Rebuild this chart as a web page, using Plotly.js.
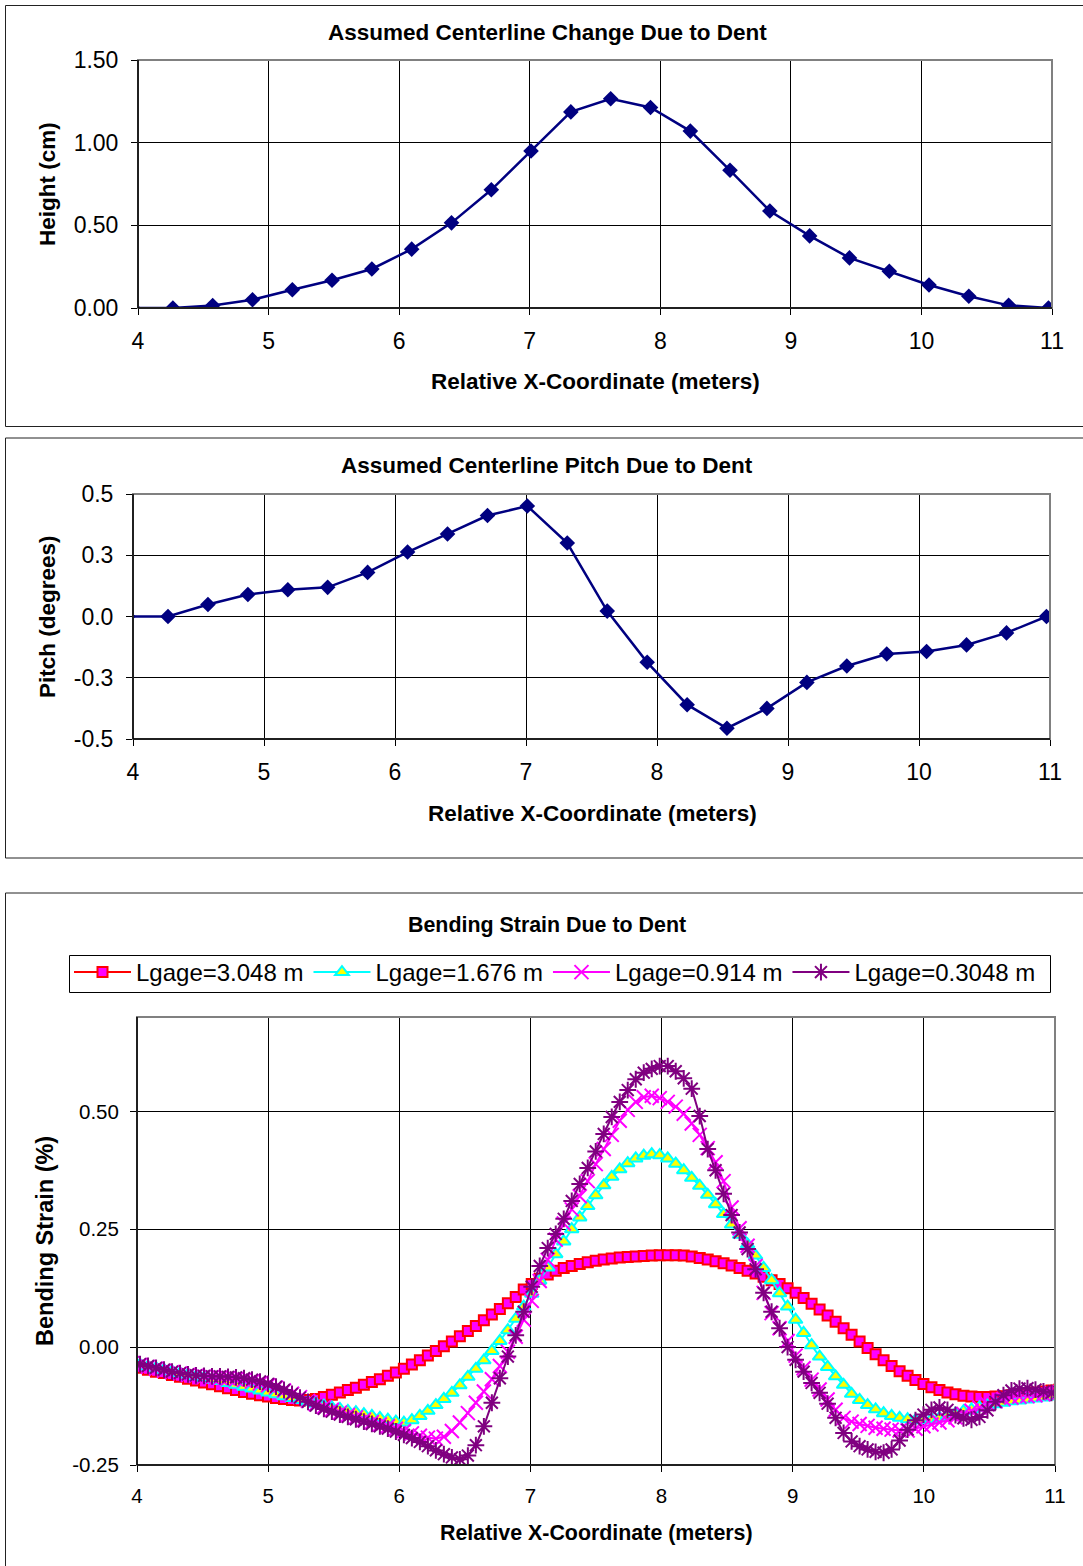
<!DOCTYPE html>
<html>
<head>
<meta charset="utf-8">
<script src="https://cdn.plot.ly/plotly-3.0.1.min.js"></script>
<style>
  html, body { margin: 0; padding: 0; background: #fff; }
  #chart { width: 1083px; height: 1566px; }
</style>
</head>
<body>
<div id="chart"></div>
<script>
// ---------- Data ----------
// Relative X-Coordinate (m) for the centerline charts (1 ft spacing)
const xCenter = [3.962, 4.267, 4.572, 4.877, 5.182, 5.486, 5.791, 6.096, 6.401, 6.706, 7.010, 7.315, 7.620,
                 7.925, 8.230, 8.534, 8.839, 9.144, 9.449, 9.754, 10.058, 10.363, 10.668, 10.973, 11.278];
// Height (cm)
const heightCm = [0.000, 0.000, 0.015, 0.050, 0.110, 0.168, 0.236, 0.356, 0.515, 0.715, 0.950, 1.186, 1.266,
                  1.213, 1.070, 0.833, 0.587, 0.436, 0.303, 0.222, 0.139, 0.071, 0.016, 0.000, 0.000];
// Pitch (degrees)
const pitchDeg = [0.000, 0.000, 0.049, 0.090, 0.109, 0.119, 0.180, 0.263, 0.337, 0.412, 0.451, 0.300, 0.022,
                  -0.187, -0.360, -0.456, -0.375, -0.269, -0.202, -0.153, -0.143, -0.116, -0.067, 0.000, 0.000];
const pitchTickVals = [-0.5, -0.25, 0, 0.25, 0.5];
const pitchTickText = ['-0.5', '-0.3', '0.0', '0.3', '0.5'];
const strainTickVals = [-0.25, 0, 0.25, 0.5];
const strainTickText = ['-0.25', '0.00', '0.25', '0.50'];

// Relative X-Coordinate (m) for bending strain (0.2 ft spacing)
const xStrain = [3.962,4.023,4.084,4.145,4.206,4.267,4.328,4.389,4.450,4.511,
                 4.572,4.633,4.694,4.755,4.816,4.877,4.938,4.999,5.060,5.121,
                 5.182,5.243,5.304,5.364,5.425,5.486,5.547,5.608,5.669,5.730,
                 5.791,5.852,5.913,5.974,6.035,6.096,6.157,6.218,6.279,6.340,
                 6.401,6.462,6.523,6.584,6.645,6.706,6.767,6.828,6.888,6.949,
                 7.010,7.071,7.132,7.193,7.254,7.315,7.376,7.437,7.498,7.559,
                 7.620,7.681,7.742,7.803,7.864,7.925,7.986,8.047,8.108,8.169,
                 8.230,8.291,8.352,8.412,8.473,8.534,8.595,8.656,8.717,8.778,
                 8.839,8.900,8.961,9.022,9.083,9.144,9.205,9.266,9.327,9.388,
                 9.449,9.510,9.571,9.632,9.693,9.754,9.815,9.876,9.936,9.997,
                 10.058,10.119,10.180,10.241,10.302,10.363,10.424,10.485,10.546,10.607,
                 10.668,10.729,10.790,10.851,10.912,10.973,11.034];

// Bending strain (%) per gage length
const strainL3048 = [-0.040,-0.044,-0.048,-0.052,-0.055,-0.059,-0.063,-0.067,-0.071,-0.075,
                     -0.079,-0.083,-0.087,-0.091,-0.095,-0.099,-0.102,-0.105,-0.108,-0.110,
                     -0.112,-0.113,-0.112,-0.110,-0.106,-0.101,-0.096,-0.091,-0.086,-0.080,
                     -0.074,-0.068,-0.061,-0.054,-0.046,-0.037,-0.028,-0.018,-0.008,0.002,
                     0.012,0.023,0.034,0.045,0.057,0.069,0.081,0.093,0.106,0.122,
                     0.134,0.145,0.154,0.162,0.168,0.172,0.176,0.180,0.183,0.186,
                     0.188,0.190,0.191,0.192,0.193,0.194,0.195,0.195,0.195,0.194,
                     0.192,0.189,0.186,0.182,0.178,0.173,0.168,0.162,0.156,0.149,
                     0.142,0.134,0.125,0.115,0.104,0.092,0.080,0.067,0.054,0.040,
                     0.026,0.012,-0.002,-0.015,-0.028,-0.040,-0.051,-0.061,-0.070,-0.078,
                     -0.085,-0.091,-0.096,-0.100,-0.103,-0.105,-0.106,-0.106,-0.105,-0.104,
                     -0.102,-0.100,-0.098,-0.096,-0.094,-0.092,-0.090];
const strainL1676 = [-0.034,-0.037,-0.041,-0.044,-0.048,-0.051,-0.055,-0.058,-0.062,-0.065,
                     -0.069,-0.072,-0.076,-0.080,-0.084,-0.088,-0.092,-0.096,-0.100,-0.104,
                     -0.108,-0.112,-0.116,-0.120,-0.124,-0.128,-0.131,-0.135,-0.138,-0.142,
                     -0.146,-0.150,-0.154,-0.158,-0.160,-0.155,-0.146,-0.135,-0.123,-0.110,
                     -0.097,-0.081,-0.063,-0.046,-0.028,-0.008,0.013,0.036,0.060,0.086,
                     0.113,0.141,0.169,0.197,0.224,0.250,0.275,0.299,0.322,0.343,
                     0.361,0.377,0.390,0.400,0.406,0.409,0.407,0.400,0.389,0.375,
                     0.359,0.342,0.323,0.303,0.282,0.260,0.238,0.218,0.194,0.168,
                     0.142,0.114,0.086,0.058,0.030,0.004,-0.020,-0.042,-0.062,-0.080,
                     -0.099,-0.112,-0.123,-0.132,-0.140,-0.146,-0.150,-0.153,-0.155,-0.155,
                     -0.153,-0.150,-0.146,-0.141,-0.136,-0.132,-0.128,-0.124,-0.121,-0.118,
                     -0.115,-0.113,-0.111,-0.109,-0.107,-0.105,-0.103];
const strainL0914 = [-0.034,-0.038,-0.042,-0.046,-0.050,-0.053,-0.056,-0.059,-0.061,-0.063,
                     -0.064,-0.065,-0.066,-0.068,-0.070,-0.073,-0.077,-0.081,-0.086,-0.092,
                     -0.099,-0.106,-0.114,-0.121,-0.127,-0.133,-0.139,-0.144,-0.149,-0.154,
                     -0.159,-0.164,-0.168,-0.173,-0.178,-0.183,-0.188,-0.192,-0.194,-0.190,
                     -0.178,-0.160,-0.140,-0.118,-0.094,-0.068,-0.040,-0.010,0.022,0.058,
                     0.098,0.140,0.185,0.228,0.262,0.292,0.320,0.352,0.388,0.420,
                     0.450,0.480,0.503,0.520,0.530,0.533,0.528,0.520,0.510,0.495,
                     0.474,0.450,0.422,0.392,0.352,0.296,0.252,0.215,0.172,0.115,
                     0.072,0.040,0.013,-0.018,-0.045,-0.069,-0.090,-0.111,-0.133,-0.150,
                     -0.158,-0.163,-0.167,-0.171,-0.173,-0.175,-0.177,-0.177,-0.173,-0.168,
                     -0.164,-0.160,-0.155,-0.149,-0.142,-0.135,-0.128,-0.121,-0.115,-0.110,
                     -0.107,-0.105,-0.104,-0.102,-0.100,-0.098,-0.096];
const strainL03048 = [-0.032,-0.036,-0.040,-0.044,-0.048,-0.052,-0.055,-0.058,-0.060,-0.061,
                      -0.062,-0.062,-0.063,-0.064,-0.066,-0.069,-0.073,-0.078,-0.084,-0.091,
                      -0.099,-0.107,-0.116,-0.124,-0.131,-0.137,-0.143,-0.148,-0.153,-0.158,
                      -0.163,-0.168,-0.173,-0.179,-0.186,-0.193,-0.201,-0.210,-0.219,-0.227,
                      -0.234,-0.238,-0.230,-0.208,-0.168,-0.118,-0.066,-0.020,0.025,0.075,
                      0.128,0.172,0.210,0.240,0.272,0.310,0.346,0.380,0.415,0.452,
                      0.488,0.520,0.545,0.568,0.582,0.590,0.596,0.596,0.585,0.570,
                      0.548,0.490,0.420,0.375,0.325,0.280,0.243,0.208,0.165,0.115,
                      0.075,0.040,0.000,-0.027,-0.052,-0.076,-0.097,-0.120,-0.150,-0.182,
                      -0.200,-0.210,-0.217,-0.222,-0.224,-0.217,-0.198,-0.175,-0.155,-0.143,
                      -0.133,-0.128,-0.133,-0.144,-0.151,-0.154,-0.148,-0.134,-0.116,-0.102,
                      -0.092,-0.088,-0.087,-0.090,-0.094,-0.097,-0.095];
const seriesNames = ['Lgage=3.048 m', 'Lgage=1.676 m', 'Lgage=0.914 m', 'Lgage=0.3048 m'];

// ---------- Styling ----------
const FONT = 'Liberation Sans, Arial, Helvetica, sans-serif';
const W = 1083, H = 1566;
const px = v => v / W;
const py = v => 1 - v / H;

function xAxis(d0, d1, anchor, fsize) {
  return {
    domain: [px(d0), px(d1)], anchor: anchor, range: [4, 11], tick0: 4, dtick: 1,
    showgrid: true, gridcolor: '#000', gridwidth: 1, zeroline: false,
    showline: true, linecolor: '#000', linewidth: 1,
    ticks: 'outside', ticklen: 6, tickcolor: '#000', tickwidth: 1,
    tickfont: { family: FONT, size: fsize, color: '#000' }, ticklabelstandoff: 6,
    fixedrange: true
  };
}
function yAxis(top, bottom, anchor, fsize, standoff, extra) {
  return Object.assign({
    domain: [py(bottom), py(top)], anchor: anchor,
    showgrid: true, gridcolor: '#000', gridwidth: 1, zeroline: false,
    showline: true, linecolor: '#000', linewidth: 1,
    ticks: 'outside', ticklen: 6, tickcolor: '#000', tickwidth: 1,
    tickfont: { family: FONT, size: fsize, color: '#000' }, ticklabelstandoff: standoff,
    fixedrange: true
  }, extra);
}

const navy = '#000080';
const traces = [
  { x: xCenter, y: heightCm, xaxis: 'x', yaxis: 'y', type: 'scatter', mode: 'lines+markers',
    line: { color: navy, width: 2.5 }, marker: { symbol: 'diamond', size: 12, color: navy }, showlegend: false },
  { x: xCenter, y: pitchDeg, xaxis: 'x2', yaxis: 'y2', type: 'scatter', mode: 'lines+markers',
    line: { color: navy, width: 2.5 }, marker: { symbol: 'diamond', size: 12, color: navy }, showlegend: false },
  { x: xStrain, y: strainL3048, xaxis: 'x3', yaxis: 'y3', type: 'scatter', mode: 'lines+markers', name: seriesNames[0],
    line: { color: '#FF0000', width: 2 },
    marker: { symbol: 'square', size: 10, color: '#FF00FF', line: { color: '#FF0000', width: 2 } } },
  { x: xStrain, y: strainL1676, xaxis: 'x3', yaxis: 'y3', type: 'scatter', mode: 'lines+markers', name: seriesNames[1],
    line: { color: '#00FFFF', width: 2 },
    marker: { symbol: 'triangle-up', size: 12, color: '#FFFF00', line: { color: '#00FFFF', width: 2 } } },
  { x: xStrain, y: strainL0914, xaxis: 'x3', yaxis: 'y3', type: 'scatter', mode: 'lines+markers', name: seriesNames[2],
    line: { color: '#FF00FF', width: 2 },
    marker: { symbol: 'x-thin-open', size: 14, color: '#FF00FF', line: { color: '#FF00FF', width: 2 } } },
  { x: xStrain, y: strainL03048, xaxis: 'x3', yaxis: 'y3', type: 'scatter', mode: 'lines+markers', name: seriesNames[3],
    line: { color: '#800080', width: 2 },
    marker: { symbol: 'asterisk-open', size: 14, color: '#800080', line: { color: '#800080', width: 2 } } }
];

function ann(text, x, y, size, angle) {
  return { text: text, x: px(x), y: py(y), xref: 'paper', yref: 'paper', xanchor: 'center', yanchor: 'middle',
           showarrow: false, textangle: angle || 0, font: { family: FONT, size: size, color: '#000' } };
}
function frame(y0, y1) {
  return { type: 'rect', xref: 'paper', yref: 'paper', x0: px(5.5), x1: px(1100), y0: py(y1), y1: py(y0),
           line: { color: '#222', width: 1 }, fillcolor: 'rgba(0,0,0,0)', layer: 'below' };
}
function plotBorder(xr, yr) {
  return { type: 'rect', xref: xr + ' domain', yref: yr + ' domain', x0: 0, x1: 1, y0: 0, y1: 1,
           line: { color: '#808080', width: 2 }, fillcolor: 'rgba(0,0,0,0)', layer: 'above' };
}
function axisLines(xr, yr) {
  return [
    { type: 'line', xref: xr + ' domain', yref: yr + ' domain', x0: 0, x1: 0, y0: 0, y1: 1,
      line: { color: '#000', width: 1.5 }, layer: 'above' },
    { type: 'line', xref: xr + ' domain', yref: yr + ' domain', x0: 0, x1: 1, y0: 0, y1: 0,
      line: { color: '#000', width: 1.5 }, layer: 'above' }
  ];
}
// legend frame (Excel-style box around the legend entries)
const legendFrame = { type: 'rect', xref: 'paper', yref: 'paper', x0: px(69.5), x1: px(1050.5), y0: py(992.5), y1: py(955.5),
                      line: { color: '#000', width: 1 }, fillcolor: 'rgba(0,0,0,0)', layer: 'above' };

const layout = {
  width: W, height: H, margin: { l: 0, r: 0, t: 0, b: 0 },
  paper_bgcolor: '#fff', plot_bgcolor: '#fff',
  font: { family: FONT, color: '#000' },
  xaxis: xAxis(138, 1052, 'y', 23),
  yaxis: yAxis(60, 308, 'x', 23, 8, { range: [0, 1.5], tick0: 0, dtick: 0.5, tickformat: '.2f' }),
  xaxis2: xAxis(133, 1050, 'y2', 23),
  yaxis2: yAxis(494, 739, 'x2', 23, 8, { range: [-0.5, 0.5], tickmode: 'array', tickvals: pitchTickVals, ticktext: pitchTickText }),
  xaxis3: xAxis(137, 1055, 'y3', 20.5),
  yaxis3: yAxis(1017, 1465, 'x3', 20.5, 7, { range: [-0.25, 0.7], tickmode: 'array', tickvals: strainTickVals, ticktext: strainTickText }),
  showlegend: true,
  legend: {
    orientation: 'h', x: px(69), y: py(950), xanchor: 'left', yanchor: 'top',
    bgcolor: 'rgba(255,255,255,0)', borderwidth: 0,
    font: { family: FONT, size: 24, color: '#000' },
    itemwidth: 57, traceorder: 'normal',
    itemclick: false, itemdoubleclick: false
  },
  shapes: [
    frame(5.5, 426.5), frame(438, 858), frame(893, 1600),
    plotBorder('x', 'y'), plotBorder('x2', 'y2'), plotBorder('x3', 'y3'), legendFrame
  ].concat(axisLines('x', 'y'), axisLines('x2', 'y2'), axisLines('x3', 'y3')),
  annotations: [
    ann('<b>Assumed Centerline Change Due to Dent</b>', 547, 33, 22.5),
    ann('<b>Relative X-Coordinate (meters)</b>', 595, 381, 22.5),
    ann('<b>Height (cm)</b>', 48, 184, 22.5, -90),
    ann('<b>Assumed Centerline Pitch Due to Dent</b>', 547, 465, 22.5),
    ann('<b>Relative X-Coordinate (meters)</b>', 592, 813, 22.5),
    ann('<b>Pitch (degrees)</b>', 48, 617, 22.5, -90),
    ann('<b>Bending Strain Due to Dent</b>', 547, 925, 21.4),
    ann('<b>Relative X-Coordinate (meters)</b>', 596, 1533, 21.4),
    ann('<b>Bending Strain (%)</b>', 45, 1241, 23.5, -90)
  ]
};

Plotly.newPlot('chart', traces, layout, { staticPlot: true, displayModeBar: false });
</script>
</body>
</html>
